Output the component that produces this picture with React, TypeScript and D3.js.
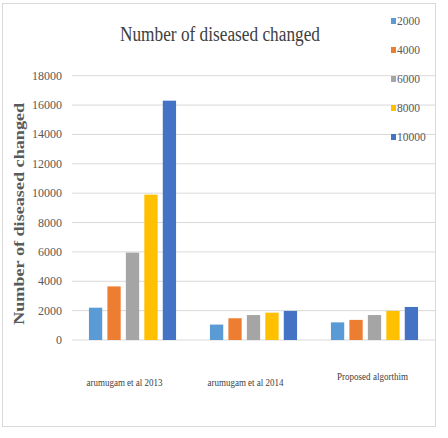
import React from 'react';
import * as d3 from 'd3';

// chart values
const categories = ['arumugam et al 2013', 'arumugam et al 2014', 'Proposed algorthim'];
const seriesNames = ['2000', '4000', '6000', '8000', '10000'];
const seriesColors = ['#5B9BD5', '#ED7D31', '#A5A5A5', '#FFC000', '#4472C4'];
const values2000 = [2200, 1050, 1200];
const values4000 = [3650, 1480, 1370];
const values6000 = [5950, 1700, 1700];
const values8000 = [9900, 1860, 1980];
const values10000 = [16300, 1980, 2250];
const yTicks = [0, 2000, 4000, 6000, 8000, 10000, 12000, 14000, 16000, 18000];

const series = [values2000, values4000, values6000, values8000, values10000];

const W = 448;
const H = 438;
const plot = { left: 72, right: 435, top: 75.7, bottom: 340 };
const font = "'Liberation Serif', 'Times New Roman', serif";

const App = () => {
  const x0 = d3.scaleBand<string>()
    .domain(categories)
    .range([plot.left, plot.right])
    .paddingInner(0.28)
    .paddingOuter(0.14);

  const x1 = d3.scaleBand<string>()
    .domain(seriesNames)
    .range([0, x0.bandwidth()])
    .paddingInner(0.28);

  const y = d3.scaleLinear()
    .domain([0, 18000])
    .range([plot.bottom, plot.top]);

  const legendY = d3.scalePoint<string>()
    .domain(seriesNames)
    .range([21, 137]);

  return (
    <svg width={W} height={H} style={{ position: 'absolute', left: 0, top: 0, background: '#fff' }}>
      <rect x={2.5} y={3.5} width={433} height={423} fill="#fff" stroke="#d9d9d9" />

      {/* title */}
      <text
        x={220}
        y={41}
        textAnchor="middle"
        fontFamily={font}
        fontSize={20}
        fill="#404040"
        textLength={200}
        lengthAdjust="spacingAndGlyphs"
      >
        Number of diseased changed
      </text>

      {/* grid + y ticks */}
      {yTicks.map(t => (
        <g key={t}>
          <line x1={plot.left} x2={plot.right} y1={y(t)} y2={y(t)} stroke="#d9d9d9" strokeWidth={1} />
          <text x={62} y={y(t) + 4} textAnchor="end" fontFamily={font} fontSize={12} fill="#595959">
            {t}
          </text>
        </g>
      ))}

      {/* y axis title */}
      <text
        transform={`translate(24,${(plot.top + plot.bottom) / 2 + 6}) rotate(-90)`}
        textAnchor="middle"
        fontFamily={font}
        fontSize={15}
        fontWeight="bold"
        fill="#595959"
        textLength={222}
        lengthAdjust="spacingAndGlyphs"
      >
        Number of diseased changed
      </text>

      {/* bars */}
      {categories.map((c, ci) => (
        <g key={c} transform={`translate(${x0(c)},0)`}>
          {seriesNames.map((s, si) => (
            <rect
              key={s}
              x={x1(s)}
              y={y(series[si][ci])}
              width={x1.bandwidth()}
              height={plot.bottom - y(series[si][ci])}
              fill={seriesColors[si]}
            />
          ))}
        </g>
      ))}

      {/* category labels */}
      {categories.map((c, ci) => (
        <text
          key={c}
          x={(x0(c) as number) + x0.bandwidth() / 2 - (ci === 2 ? 2 : 8)}
          y={ci === 2 ? 380 : 386}
          textAnchor="middle"
          fontFamily={font}
          fontSize={11}
          fill="#404040"
          textLength={ci === 2 ? 71 : 76}
          lengthAdjust="spacingAndGlyphs"
        >
          {c}
        </text>
      ))}

      {/* legend */}
      {seriesNames.map((s, si) => (
        <g key={s} transform={`translate(391,${legendY(s)})`}>
          <rect x={0} y={-3} width={5} height={6} fill={seriesColors[si]} />
          <text x={6} y={4} fontFamily={font} fontSize={11.5} fill="#595959">{s}</text>
        </g>
      ))}
    </svg>
  );
};

export default App;
